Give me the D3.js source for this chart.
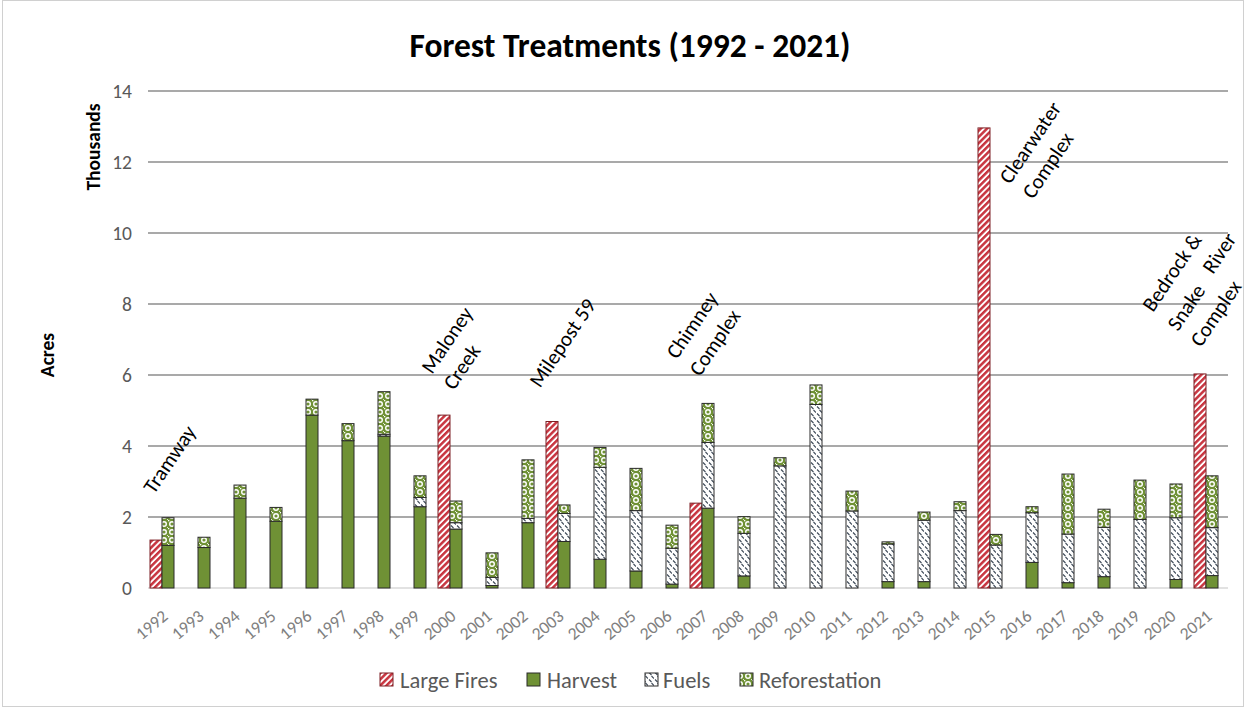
<!DOCTYPE html>
<html>
<head>
<meta charset="utf-8">
<script src="https://cdn.jsdelivr.net/npm/d3@7/dist/d3.min.js"></script>
<style>
  html, body { margin: 0; padding: 0; background: #fff; }
  svg { display: block; font-family: Carlito, Lato, "Open Sans", sans-serif; }
</style>
</head>
<body>
<svg id="chart" width="1250" height="709"></svg>
<script>
// Forest treatment acres per year, in thousands
const years = ["1992","1993","1994","1995","1996","1997","1998","1999","2000","2001",
               "2002","2003","2004","2005","2006","2007","2008","2009","2010","2011",
               "2012","2013","2014","2015","2016","2017","2018","2019","2020","2021"];

const largeFires    = [1.35,0,0,0,0,0,0,0,4.87,0,0,4.69,0,0,0,2.39,0,0,0,0,0,0,0,12.96,0,0,0,0,0,6.03];
const harvest       = [1.20,1.14,2.53,1.88,4.87,4.15,4.28,2.29,1.66,0.07,1.84,1.31,0.81,0.48,0.11,2.25,0.34,0,0,0,0.18,0.18,0,0,0.72,0.15,0.32,0,0.24,0.35];
const fuels         = [0,0,0,0,0,0,0.05,0.26,0.18,0.23,0.12,0.79,2.59,1.70,1.01,1.85,1.20,3.44,5.17,2.17,1.06,1.73,2.18,1.21,1.40,1.37,1.39,1.93,1.74,1.35];
const reforestation = [0.78,0.29,0.37,0.39,0.45,0.48,1.20,0.61,0.61,0.69,1.65,0.24,0.56,1.19,0.65,1.10,0.47,0.23,0.55,0.56,0.06,0.23,0.25,0.30,0.17,1.69,0.51,1.11,0.95,1.46];

const yTicks = [0, 2, 4, 6, 8, 10, 12, 14];
const seriesNames = ["Large Fires", "Harvest", "Fuels", "Reforestation"];

// Named fires written beside the bars
const fireNotes = [
  { year: "1992", lines: ["Tramway"] },
  { year: "2000", lines: ["Maloney", "Creek"] },
  { year: "2003", lines: ["Milepost 59"] },
  { year: "2007", lines: ["Chimney", "Complex"] },
  { year: "2015", lines: ["Clearwater", "Complex"] },
  { year: "2021", lines: ["Bedrock &", "Snake", "River", "Complex"] }
];

const svg = d3.select("#chart");
const plot = { left: 144, right: 1224, top: 91, bottom: 588 };

const x = d3.scaleBand().domain(years).range([plot.left, plot.right])
  .paddingInner(1/3).paddingOuter(1/6);
const sub = d3.scaleBand().domain(["fire", "stack"]).range([0, x.bandwidth()]);
const y = d3.scaleLinear().domain([0, 14]).range([plot.bottom, plot.top]);

// ---- fill patterns ----
const defs = svg.append("defs");
const RED = "#c8343f", GREEN = "#6f9135";

const pFire = defs.append("pattern").attr("id", "pat-fire")
  .attr("patternUnits", "userSpaceOnUse").attr("width", 4.4).attr("height", 4.4)
  .attr("patternTransform", "rotate(45)");
pFire.append("rect").attr("width", 4.4).attr("height", 4.4).attr("fill", "#fff");
pFire.append("rect").attr("width", 2.5).attr("height", 4.4).attr("fill", RED);

const pFuel = defs.append("pattern").attr("id", "pat-fuel")
  .attr("patternUnits", "userSpaceOnUse").attr("width", 6).attr("height", 7);
pFuel.append("rect").attr("width", 6).attr("height", 7).attr("fill", "#fff");
pFuel.append("path").attr("d", "M1,0.5 L3.5,3 M3.5,4 L6,6.5")
  .attr("stroke", "#3e4a58").attr("stroke-width", 1.1).attr("fill", "none");

const pRef = defs.append("pattern").attr("id", "pat-ref")
  .attr("patternUnits", "userSpaceOnUse").attr("width", 8).attr("height", 8);
pRef.append("rect").attr("width", 8).attr("height", 8).attr("fill", GREEN);
pRef.append("circle").attr("cx", 4).attr("cy", 4).attr("r", 2.3)
  .attr("fill", "none").attr("stroke", "#fff").attr("stroke-width", 1.4);
pRef.append("rect").attr("x", 0).attr("y", 0).attr("width", 1.3).attr("height", 1.3).attr("fill", "#fff");
pRef.append("rect").attr("x", 7.1).attr("y", 7.1).attr("width", 0.9).attr("height", 0.9).attr("fill", "#fff");

const fills = {
  "Large Fires": "url(#pat-fire)",
  "Harvest": GREEN,
  "Fuels": "url(#pat-fuel)",
  "Reforestation": "url(#pat-ref)"
};
const strokes = {
  "Large Fires": "#7d1f24",
  "Harvest": "#2a2a2a",
  "Fuels": "#2a2a2a",
  "Reforestation": "#2a2a2a"
};

// ---- chart frame ----
svg.append("rect").attr("x", 2.5).attr("y", 0.5).attr("width", 1241).attr("height", 706)
  .attr("fill", "none").attr("stroke", "#d0d0d0").attr("stroke-width", 1);

// ---- title ----
svg.append("text").attr("x", 630).attr("y", 57).attr("text-anchor", "middle")
  .attr("font-size", 33.5).attr("font-weight", "bold").attr("fill", "#000")
  .text("Forest Treatments (1992 - 2021)");

// ---- gridlines & y axis ----
const yAxis = svg.append("g").attr("class", "y-axis");
yAxis.selectAll("line.grid").data(yTicks.filter(d => d > 0)).join("line")
  .attr("class", "grid")
  .attr("x1", 148).attr("x2", 1228)
  .attr("y1", d => y(d)).attr("y2", d => y(d))
  .attr("stroke", "#8c8c8c").attr("stroke-width", 1.4);
yAxis.append("line").attr("x1", 148).attr("x2", 1228)
  .attr("y1", y(0)).attr("y2", y(0))
  .attr("stroke", "#d9d9d9").attr("stroke-width", 1.4);
yAxis.selectAll("text.tick").data(yTicks).join("text")
  .attr("class", "tick")
  .attr("x", 132).attr("y", d => y(d)).attr("dy", "0.35em")
  .attr("text-anchor", "end").attr("font-size", 19.5).attr("fill", "#595959")
  .text(d => d);

svg.append("text").attr("transform", "translate(100,147) rotate(-90)")
  .attr("text-anchor", "middle").attr("font-size", 19.5).attr("font-weight", "bold")
  .attr("fill", "#000").text("Thousands");
svg.append("text").attr("transform", "translate(54,355) rotate(-90)")
  .attr("text-anchor", "middle").attr("font-size", 19.5).attr("font-weight", "bold")
  .attr("fill", "#000").text("Acres");

// ---- x axis labels ----
svg.append("g").selectAll("text").data(years).join("text")
  .attr("transform", d => `translate(${x(d) + x.bandwidth() / 2 + 7},${618}) rotate(-40)`)
  .attr("text-anchor", "end").attr("font-size", 17.5).attr("fill", "#808080")
  .text(d => d);

// ---- bars ----
const stackKeys = ["Harvest", "Fuels", "Reforestation"];
const rows = years.map((yr, i) => ({
  year: yr, "Harvest": harvest[i], "Fuels": fuels[i], "Reforestation": reforestation[i], fire: largeFires[i]
}));
const stacked = d3.stack().keys(stackKeys)(rows);

const bars = svg.append("g").attr("class", "bars");
bars.selectAll("rect.fire").data(rows.filter(r => r.fire > 0)).join("rect")
  .attr("class", "fire")
  .attr("x", d => x(d.year) + sub("fire")).attr("width", sub.bandwidth())
  .attr("y", d => y(d.fire)).attr("height", d => y(0) - y(d.fire))
  .attr("fill", fills["Large Fires"]).attr("stroke", strokes["Large Fires"]).attr("stroke-width", 1);

stacked.forEach(layer => {
  const key = layer.key;
  bars.selectAll(`rect.s-${key}`).data(layer.filter(s => s[1] - s[0] > 0)).join("rect")
    .attr("class", `s-${key}`)
    .attr("x", s => x(s.data.year) + sub("stack")).attr("width", sub.bandwidth())
    .attr("y", s => y(s[1])).attr("height", s => y(s[0]) - y(s[1]))
    .attr("fill", fills[key]).attr("stroke", strokes[key]).attr("stroke-width", 1);
});

// ---- fire name notes ----
// each line: offset from band start (px) and the value its baseline starts at
const notePlacement = {
  "1992": [[4, 2.62]],
  "2000": [[-6, 6.0], [16, 5.55]],
  "2003": [[-6, 5.61]],
  "2007": [[-13, 6.42], [10, 5.94]],
  "2015": [[32, 11.35], [55, 10.93]],
  "2021": [[-41, 7.75], [-16, 7.21], [19, 8.82], [7, 6.76]]
};
const noteLines = fireNotes.flatMap(n => n.lines.map((t, j) => ({
  text: t, year: n.year, dx: notePlacement[n.year][j][0], v: notePlacement[n.year][j][1]
})));
svg.append("g").selectAll("text").data(noteLines).join("text")
  .attr("transform", d => `translate(${x(d.year) + d.dx},${y(d.v)}) rotate(-56)`)
  .attr("font-size", 21).attr("fill", "#000")
  .text(d => d.text);

// ---- legend ----
const legendPos = [{ box: 380, text: 400 }, { box: 527, text: 547 }, { box: 645, text: 663 }, { box: 740, text: 759 }];
const legend = svg.append("g").selectAll("g").data(seriesNames).join("g");
legend.append("rect")
  .attr("x", (d, i) => legendPos[i].box).attr("y", 673).attr("width", 13).attr("height", 13)
  .attr("fill", d => fills[d]).attr("stroke", d => strokes[d]).attr("stroke-width", 1);
legend.append("text")
  .attr("x", (d, i) => legendPos[i].text).attr("y", 680).attr("dy", "0.35em")
  .attr("font-size", 22.5).attr("fill", "#595959")
  .text(d => d);
</script>
</body>
</html>
